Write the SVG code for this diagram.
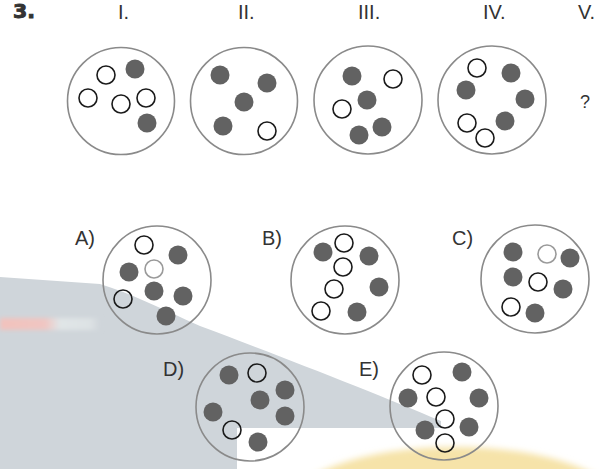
<svg xmlns="http://www.w3.org/2000/svg" width="610" height="469" viewBox="0 0 610 469">
<style>
.ring{fill:none;stroke:#8a8a8a;stroke-width:1.6}
.f{fill:#626262}
.o{fill:none;stroke:#1a1a1a;stroke-width:1.6}
.ol{fill:none;stroke:#9a9a9a;stroke-width:1.6}
.lbl{font-family:"Liberation Sans",Arial,sans-serif;font-size:20px;fill:#333}
.num{font-family:"DejaVu Sans","Liberation Sans",sans-serif;font-size:19px;font-weight:bold;fill:#333;stroke:#333;stroke-width:0.9}
</style>
<defs>
<filter id="blur2" x="-10%" y="-50%" width="120%" height="200%"><feGaussianBlur stdDeviation="2"/></filter>
<filter id="blur3" x="-10%" y="-20%" width="120%" height="140%"><feGaussianBlur stdDeviation="3"/></filter>
<linearGradient id="stripe" x1="0" y1="0" x2="1" y2="0">
<stop offset="0" stop-color="#f2c2bd"/>
<stop offset="0.45" stop-color="#f0c6c2"/>
<stop offset="0.6" stop-color="#e0e5e7"/>
<stop offset="0.9" stop-color="#dde2e4"/>
<stop offset="1" stop-color="#cfd5da"/>
</linearGradient>
</defs>
<rect width="610" height="469" fill="#ffffff"/>
<g id="background">
<path d="M0,277 L100,284 C130,293 160,308 200,326 C280,356 380,395 441,421 L441,428 L237,428 L237,469 L0,469 Z" fill="#cfd5da"/>
<rect x="0" y="318" width="100" height="12" fill="url(#stripe)" filter="url(#blur2)"/>
<ellipse cx="455" cy="511" rx="170" ry="64" fill="#f6e3a9" filter="url(#blur3)"/>
</g>
<text class="num" x="13" y="18" textLength="22" lengthAdjust="spacingAndGlyphs">3.</text>
<g id="panel-I">
<text class="lbl" x="118" y="19">I.</text>
<circle class="ring" cx="121" cy="101" r="53.5"/>
<circle class="o" cx="106" cy="75" r="9"/>
<circle class="f" cx="135" cy="69" r="9.5"/>
<circle class="o" cx="88" cy="98" r="9"/>
<circle class="o" cx="121" cy="104" r="9"/>
<circle class="o" cx="146" cy="98" r="9"/>
<circle class="f" cx="147" cy="123" r="9.5"/>
</g>
<g id="panel-II">
<text class="lbl" x="238" y="19">II.</text>
<circle class="ring" cx="244" cy="101" r="53.5"/>
<circle class="f" cx="220" cy="75" r="9.5"/>
<circle class="f" cx="267" cy="83" r="9.5"/>
<circle class="f" cx="244" cy="102" r="9.5"/>
<circle class="f" cx="223" cy="126" r="9.5"/>
<circle class="o" cx="267" cy="131" r="9"/>
</g>
<g id="panel-III">
<text class="lbl" x="358" y="19">III.</text>
<circle class="ring" cx="368" cy="100" r="54"/>
<circle class="f" cx="352" cy="76" r="9.5"/>
<circle class="o" cx="393" cy="79" r="9"/>
<circle class="f" cx="367" cy="100" r="9.5"/>
<circle class="o" cx="342" cy="109" r="9"/>
<circle class="f" cx="382" cy="127" r="9.5"/>
<circle class="f" cx="359" cy="135" r="9.5"/>
</g>
<g id="panel-IV">
<text class="lbl" x="483" y="19">IV.</text>
<circle class="ring" cx="492" cy="100" r="54"/>
<circle class="o" cx="477" cy="68" r="9"/>
<circle class="f" cx="511" cy="73" r="9.5"/>
<circle class="f" cx="466" cy="90" r="9.5"/>
<circle class="f" cx="525" cy="99" r="9.5"/>
<circle class="f" cx="505" cy="121" r="9.5"/>
<circle class="o" cx="467" cy="123" r="9"/>
<circle class="o" cx="485" cy="138" r="9"/>
</g>
<g id="panel-V">
<text class="lbl" x="578" y="19">V.</text>
<text class="lbl" x="585" y="108" text-anchor="middle" style="font-size:18px">?</text>
</g>
<g id="option-A">
<text class="lbl" x="75" y="245">A)</text>
<circle class="ring" cx="157" cy="280" r="54"/>
<circle class="o" cx="144" cy="245" r="9"/>
<circle class="f" cx="178" cy="255" r="9.5"/>
<circle class="f" cx="129" cy="272" r="9.5"/>
<circle class="ol" cx="154" cy="269" r="9"/>
<circle class="f" cx="154" cy="291" r="9.5"/>
<circle class="f" cx="183" cy="296" r="9.5"/>
<circle class="o" cx="123" cy="299" r="9"/>
<circle class="f" cx="166" cy="316" r="9.5"/>
</g>
<g id="option-B">
<text class="lbl" x="262" y="245">B)</text>
<circle class="ring" cx="345" cy="280" r="54"/>
<circle class="f" cx="323" cy="252" r="9.5"/>
<circle class="o" cx="344" cy="243" r="9"/>
<circle class="f" cx="369" cy="256" r="9.5"/>
<circle class="o" cx="343" cy="267" r="9"/>
<circle class="f" cx="379" cy="287" r="9.5"/>
<circle class="o" cx="334" cy="289" r="9"/>
<circle class="o" cx="321" cy="311" r="9"/>
<circle class="f" cx="357" cy="312" r="9.5"/>
</g>
<g id="option-C">
<text class="lbl" x="452" y="245">C)</text>
<circle class="ring" cx="535" cy="279" r="54"/>
<circle class="f" cx="513" cy="252" r="9.5"/>
<circle class="ol" cx="547" cy="254" r="9"/>
<circle class="f" cx="570" cy="258" r="9.5"/>
<circle class="f" cx="513" cy="277" r="9.5"/>
<circle class="o" cx="538" cy="282" r="9"/>
<circle class="f" cx="563" cy="289" r="9.5"/>
<circle class="o" cx="511" cy="307" r="9"/>
<circle class="f" cx="535" cy="313" r="9.5"/>
</g>
<g id="option-D">
<text class="lbl" x="163" y="376">D)</text>
<circle class="ring" cx="250" cy="407" r="54"/>
<circle class="f" cx="229" cy="375" r="9.5"/>
<circle class="o" cx="257" cy="373" r="9"/>
<circle class="f" cx="285" cy="390" r="9.5"/>
<circle class="f" cx="260" cy="400" r="9.5"/>
<circle class="f" cx="285" cy="416" r="9.5"/>
<circle class="f" cx="213" cy="412" r="9.5"/>
<circle class="o" cx="232" cy="430" r="9"/>
<circle class="f" cx="258" cy="442" r="9.5"/>
</g>
<g id="option-E">
<text class="lbl" x="359" y="376">E)</text>
<circle class="ring" cx="444" cy="406" r="54"/>
<circle class="o" cx="422" cy="375" r="9"/>
<circle class="f" cx="462" cy="372" r="9.5"/>
<circle class="f" cx="408" cy="398" r="9.5"/>
<circle class="o" cx="436" cy="397" r="9"/>
<circle class="f" cx="479" cy="398" r="9.5"/>
<circle class="o" cx="445" cy="419" r="9"/>
<circle class="f" cx="425" cy="430" r="9.5"/>
<circle class="f" cx="469" cy="427" r="9.5"/>
<circle class="o" cx="445" cy="443" r="9"/>
</g>
</svg>
